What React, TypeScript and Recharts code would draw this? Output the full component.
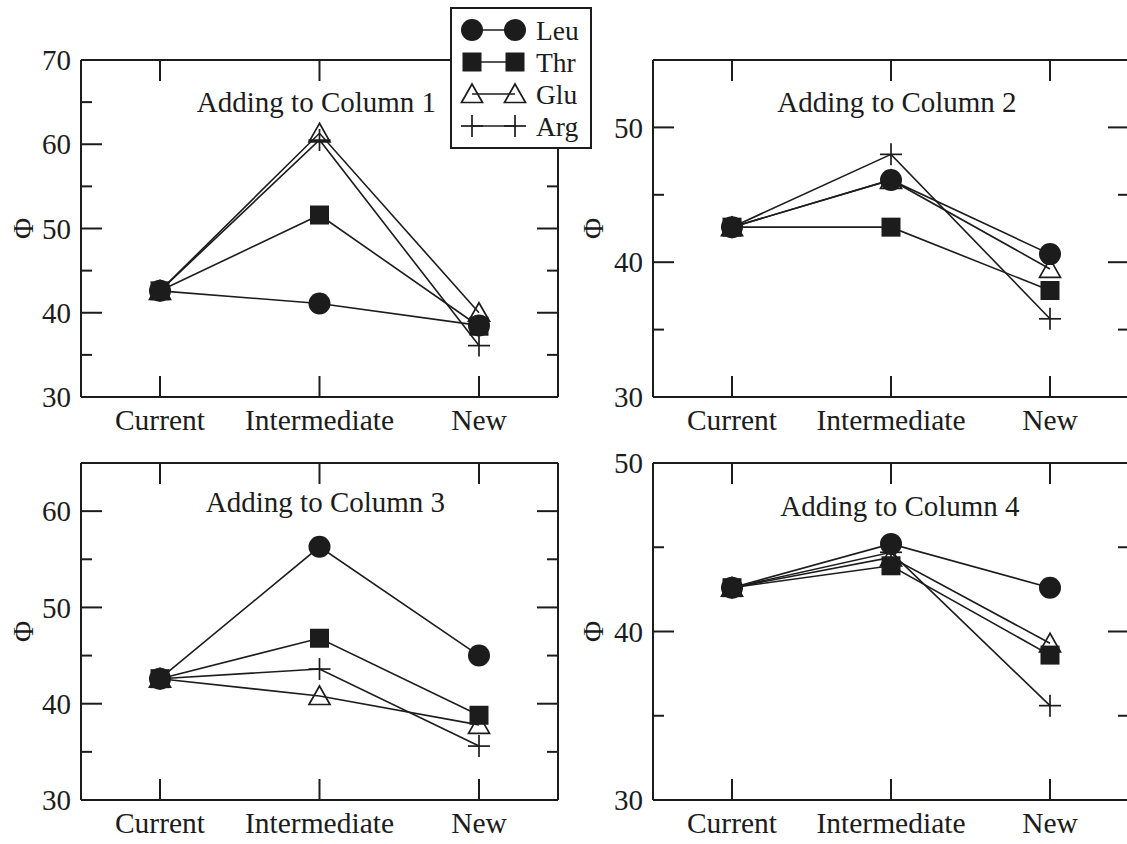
import React from 'react';
import { LineChart, Line, XAxis, YAxis, Legend } from 'recharts';

const INK = '#1c1c1c';
const FONT = "'Liberation Serif', 'Times New Roman', serif";

const categories = ['Current', 'Intermediate', 'New'];
const seriesNames = ['Leu', 'Thr', 'Glu', 'Arg'];
const drawOrder = ['Arg', 'Glu', 'Thr', 'Leu'];
const panelTitles = ['Adding to Column 1', 'Adding to Column 2', 'Adding to Column 3', 'Adding to Column 4'];
const axisTitle = 'Φ';

const col1Leu = [42.6, 41.1, 38.5];
const col1Thr = [42.6, 51.6, 38.4];
const col1Glu = [42.6, 61.3, 40.0];
const col1Arg = [42.6, 60.5, 36.1];

const col2Leu = [42.6, 46.1, 40.6];
const col2Thr = [42.6, 42.6, 37.9];
const col2Glu = [42.6, 46.1, 39.5];
const col2Arg = [42.6, 48.0, 35.8];

const col3Leu = [42.6, 56.3, 45.0];
const col3Thr = [42.6, 46.8, 38.8];
const col3Glu = [42.6, 40.8, 37.8];
const col3Arg = [42.6, 43.6, 35.6];

const col4Leu = [42.6, 45.2, 42.6];
const col4Thr = [42.6, 43.9, 38.6];
const col4Glu = [42.6, 44.4, 39.3];
const col4Arg = [42.6, 44.7, 35.6];

const yTicks1 = [30, 35, 40, 45, 50, 55, 60, 65, 70];
const yTicks2 = [30, 35, 40, 45, 50, 55];
const yTicks3 = [30, 35, 40, 45, 50, 55, 60, 65];
const yTicks4 = [30, 35, 40, 45, 50];

const buildRows = (leu: number[], thr: number[], glu: number[], arg: number[]) =>
  categories.map((cat, i) => ({ cat, Leu: leu[i], Thr: thr[i], Glu: glu[i], Arg: arg[i] }));

const panels = [
  { title: panelTitles[0], rows: buildRows(col1Leu, col1Thr, col1Glu, col1Arg), ticks: yTicks1 },
  { title: panelTitles[1], rows: buildRows(col2Leu, col2Thr, col2Glu, col2Arg), ticks: yTicks2 },
  { title: panelTitles[2], rows: buildRows(col3Leu, col3Thr, col3Glu, col3Arg), ticks: yTicks3 },
  { title: panelTitles[3], rows: buildRows(col4Leu, col4Thr, col4Glu, col4Arg), ticks: yTicks4 },
];

const layouts = [
  { left: 0, top: 0, width: 600, height: 440, margin: { top: 50, right: 32, bottom: 0, left: 0 }, yW: 81, xH: 43, phiX: 23, titleDx: -3, titleDy: 52 },
  { left: 560, top: 0, width: 600, height: 440, margin: { top: 50, right: 21, bottom: 0, left: 0 }, yW: 93, xH: 43, phiX: 33, titleDx: 6, titleDy: 52 },
  { left: 0, top: 440, width: 600, height: 404, margin: { top: 13, right: 32, bottom: 0, left: 0 }, yW: 81, xH: 44, phiX: 23, titleDx: 6, titleDy: 49 },
  { left: 560, top: 440, width: 600, height: 404, margin: { top: 13, right: 21, bottom: 0, left: 0 }, yW: 93, xH: 44, phiX: 33, titleDx: 9, titleDy: 53 },
];

const Marker = ({ name, cx, cy }: { name: string; cx: number; cy: number }) => {
  switch (name) {
    case 'Leu':
      return <circle cx={cx} cy={cy} r={11} fill={INK} />;
    case 'Thr':
      return <rect x={cx - 9.5} y={cy - 9.5} width={19} height={19} fill={INK} />;
    case 'Glu':
      return (
        <polygon
          points={`${cx},${cy - 10} ${cx - 10.5},${cy + 8.5} ${cx + 10.5},${cy + 8.5}`}
          fill="none"
          stroke={INK}
          strokeWidth={1.7}
        />
      );
    default:
      return (
        <g stroke={INK} strokeWidth={1.7}>
          <line x1={cx - 11} x2={cx + 11} y1={cy} y2={cy} />
          <line x1={cx} x2={cx} y1={cy - 11} y2={cy + 11} />
        </g>
      );
  }
};

const makeDot = (name: string) => (props: any) => {
  const { cx, cy, index } = props;
  if (cx == null || cy == null) return <g key={`${name}-${index}`} />;
  return (
    <g key={`${name}-${index}`}>
      <Marker name={name} cx={cx} cy={cy} />
    </g>
  );
};

const LeftTick = (props: any) => {
  const { x, y, payload } = props;
  const major = payload.value % 10 === 0;
  const ax = x + 10;
  return (
    <g>
      <line x1={ax} y1={y} x2={ax + (major ? 21 : 11)} y2={y} stroke={INK} strokeWidth={2} />
      {major && (
        <text x={x} y={y} dy="0.35em" textAnchor="end" fontSize={29} fontFamily={FONT} fill={INK}>
          {payload.value}
        </text>
      )}
    </g>
  );
};

const RightTick = (props: any) => {
  const { x, y, payload } = props;
  const major = payload.value % 10 === 0;
  return <line x1={x - (major ? 21 : 11)} y1={y} x2={x} y2={y} stroke={INK} strokeWidth={2} />;
};

const BottomTick = (props: any) => {
  const { x, y, payload } = props;
  return (
    <g>
      <line x1={x} y1={y} x2={x} y2={y - 21} stroke={INK} strokeWidth={2} />
      <text x={x} y={y + 23} dy="0.35em" textAnchor="middle" fontSize={29.5} fontFamily={FONT} fill={INK}>
        {payload.value}
      </text>
    </g>
  );
};

const TopTick = (props: any) => {
  const { x, y } = props;
  return <line x1={x} y1={y} x2={x} y2={y + 21} stroke={INK} strokeWidth={2} />;
};

const phiLabel = (dx: number) => (props: any) => {
  const vb = props.viewBox || { x: 0, y: 0, width: 0, height: 0 };
  const cx = vb.x + dx;
  const cy = vb.y + vb.height / 2;
  return (
    <text
      x={cx}
      y={cy}
      transform={`rotate(-90 ${cx} ${cy})`}
      textAnchor="middle"
      dominantBaseline="central"
      fontSize={29}
      fontFamily={FONT}
      fill={INK}
    >
      {axisTitle}
    </text>
  );
};

const titleLabel = (text: string, dx: number, dy: number) => (props: any) => {
  const vb = props.viewBox || { x: 0, y: 0, width: 0, height: 0 };
  return (
    <text
      x={vb.x + vb.width / 2 + dx}
      y={vb.y + vb.height + dy}
      textAnchor="middle"
      fontSize={29}
      fontFamily={FONT}
      fill={INK}
    >
      {text}
    </text>
  );
};

const LegendBox = ({ payload }: { payload?: any[] }) => {
  const raw = payload && payload.length ? payload.map((p) => String(p.value)) : seriesNames;
  const items = [...raw].sort((a, b) => seriesNames.indexOf(a) - seriesNames.indexOf(b));
  return (
    <div
      style={{
        width: 142,
        height: 142,
        border: `2px solid ${INK}`,
        background: '#fff',
        boxSizing: 'border-box',
      }}
    >
      <svg width={138} height={138} style={{ display: 'block' }}>
        {items.map((name, i) => {
          const cy = 21 + i * 32;
          return (
            <g key={name}>
              <line x1={20} x2={63} y1={cy} y2={cy} stroke={INK} strokeWidth={1.5} />
              <Marker name={name} cx={20} cy={cy} />
              <Marker name={name} cx={63} cy={cy} />
              <text x={84} y={cy} dy="0.35em" fontSize={27.5} fontFamily={FONT} fill={INK}>
                {name}
              </text>
            </g>
          );
        })}
      </svg>
    </div>
  );
};

const Panel = ({ index }: { index: number }) => {
  const p = panels[index];
  const l = layouts[index];
  const domain = [p.ticks[0], p.ticks[p.ticks.length - 1]];
  const axisLine = { stroke: INK, strokeWidth: 2 };
  return (
    <div style={{ position: 'absolute', left: l.left, top: l.top, width: l.width, height: l.height }}>
      <LineChart width={l.width} height={l.height} data={p.rows} margin={l.margin}>
        <XAxis
          dataKey="cat"
          type="category"
          height={l.xH}
          padding={{ left: 79, right: 79 }}
          interval={0}
          tickSize={0}
          tickMargin={0}
          tickLine={false}
          axisLine={axisLine}
          tick={<BottomTick />}
        />
        <XAxis
          xAxisId="top"
          dataKey="cat"
          type="category"
          orientation="top"
          height={10}
          padding={{ left: 79, right: 79 }}
          interval={0}
          tickSize={0}
          tickMargin={0}
          tickLine={false}
          axisLine={axisLine}
          tick={<TopTick />}
          label={titleLabel(p.title, l.titleDx, l.titleDy)}
        />
        <YAxis
          type="number"
          domain={domain}
          ticks={p.ticks}
          interval={0}
          width={l.yW}
          tickSize={0}
          tickMargin={10}
          tickLine={false}
          axisLine={axisLine}
          tick={<LeftTick />}
          allowDataOverflow
          label={phiLabel(l.phiX)}
        />
        <YAxis
          yAxisId="right"
          type="number"
          orientation="right"
          domain={domain}
          ticks={p.ticks}
          interval={0}
          width={10}
          tickSize={0}
          tickMargin={0}
          tickLine={false}
          axisLine={axisLine}
          tick={<RightTick />}
          allowDataOverflow
        />
        {drawOrder.map((name) => (
          <Line
            key={name}
            type="linear"
            dataKey={name}
            name={name}
            stroke={INK}
            strokeWidth={1.6}
            dot={makeDot(name)}
            activeDot={false}
            isAnimationActive={false}
          />
        ))}
        {index === 0 && (
          <Legend
            layout="vertical"
            align="center"
            verticalAlign="middle"
            wrapperStyle={{ left: 450, top: 7, width: 142, height: 142, margin: 0, padding: 0 }}
            content={(props: any) => <LegendBox payload={props.payload} />}
          />
        )}
      </LineChart>
    </div>
  );
}

export default function App() {
  return (
    <div
      style={{
        position: 'absolute',
        left: 0,
        top: 0,
        width: 1127,
        height: 844,
        overflow: 'hidden',
        background: '#fff',
      }}
    >
      {panels.map((_, i) => (
        <Panel key={i} index={i} />
      ))}
    </div>
  );
}
